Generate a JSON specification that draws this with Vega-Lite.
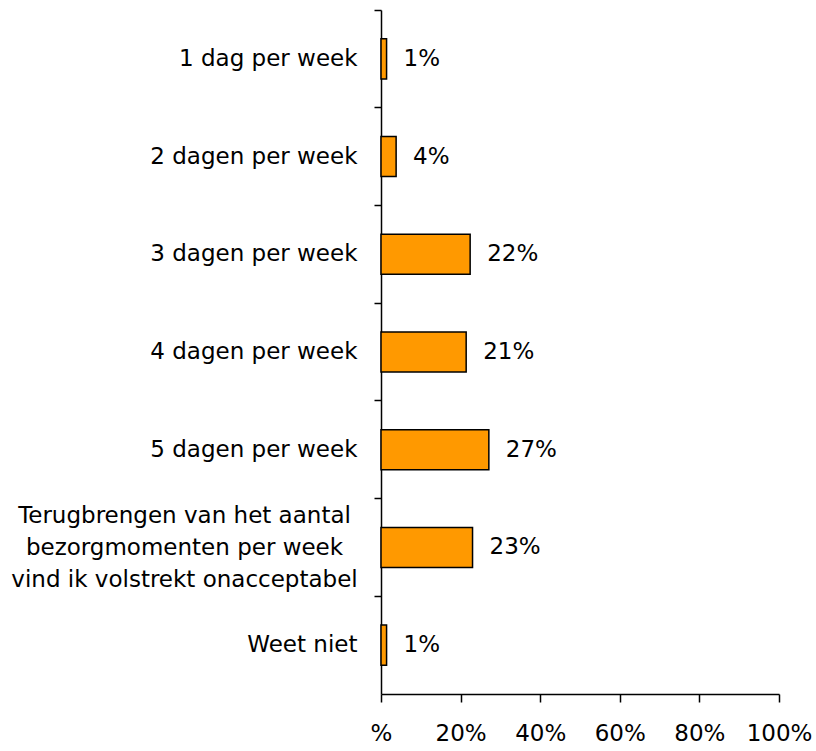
{
  "$schema": "https://vega.github.io/schema/vega-lite/v6.json",
  "autosize": "none",
  "width": 398,
  "height": 684,
  "padding": {"left": 381, "top": 10, "right": 37, "bottom": 57},
  "background": "white",
  "config": {
    "view": {"stroke": null},
    "font": "DejaVu Sans",
    "axis": {"labelFont": "DejaVu Sans", "labelColor": "black", "domainColor": "black", "tickColor": "black", "domainWidth": 1.5, "tickWidth": 1.5, "grid": false}
  },
  "data": {
    "values": [
      {"cat": "1 dag per week", "pct": 1.4, "label": "1%"},
      {"cat": "2 dagen per week", "pct": 3.8, "label": "4%"},
      {"cat": "3 dagen per week", "pct": 22.4, "label": "22%"},
      {"cat": "4 dagen per week", "pct": 21.4, "label": "21%"},
      {"cat": "5 dagen per week", "pct": 27.1, "label": "27%"},
      {"cat": "Terugbrengen van het aantal bezorgmomenten per week vind ik volstrekt onacceptabel", "pct": 23.0, "label": "23%"},
      {"cat": "Weet niet", "pct": 1.4, "label": "1%"}
    ]
  },
  "encoding": {
    "y": {
      "field": "cat",
      "type": "nominal",
      "sort": null,
      "scale": {"paddingInner": 0, "paddingOuter": 0},
      "axis": {
        "title": null,
        "bandPosition": 0,
        "tickSize": 7,
        "labelFontSize": 23,
        "labelLimit": 0,
        "labelPadding": {"condition": {"test": "indexof(datum.value, 'Terugbrengen') == 0", "value": 190}, "value": 17},
        "labelAlign": {"condition": {"test": "indexof(datum.value, 'Terugbrengen') == 0", "value": "center"}, "value": "right"},
        "labelOffset": {"condition": {"test": "indexof(datum.value, 'Terugbrengen') == 0", "value": -31}, "value": 0},
        "labelLineHeight": 32,
        "labelExpr": "indexof(datum.value, 'Terugbrengen') == 0 ? ['Terugbrengen van het aantal', 'bezorgmomenten per week', 'vind ik volstrekt onacceptabel'] : datum.label"
      }
    }
  },
  "layer": [
    {
      "mark": {"type": "bar", "fill": "#FF9900", "stroke": "black", "strokeWidth": 1.5, "height": {"band": 0.41}},
      "encoding": {
        "x": {
          "field": "pct",
          "type": "quantitative",
          "scale": {"domain": [0, 100], "nice": false},
          "axis": {
            "title": null,
            "values": [0, 20, 40, 60, 80, 100],
            "tickSize": 8,
            "labelFontSize": 23,
            "labelPadding": 20,
            "labelFlush": false,
            "labelExpr": "datum.value == 0 ? '%' : datum.value + '%'"
          }
        }
      }
    },
    {
      "mark": {"type": "text", "align": "left", "baseline": "middle", "dx": 17, "fontSize": 23, "color": "black"},
      "encoding": {
        "x": {"field": "pct", "type": "quantitative"},
        "text": {"field": "label"}
      }
    }
  ]
}
